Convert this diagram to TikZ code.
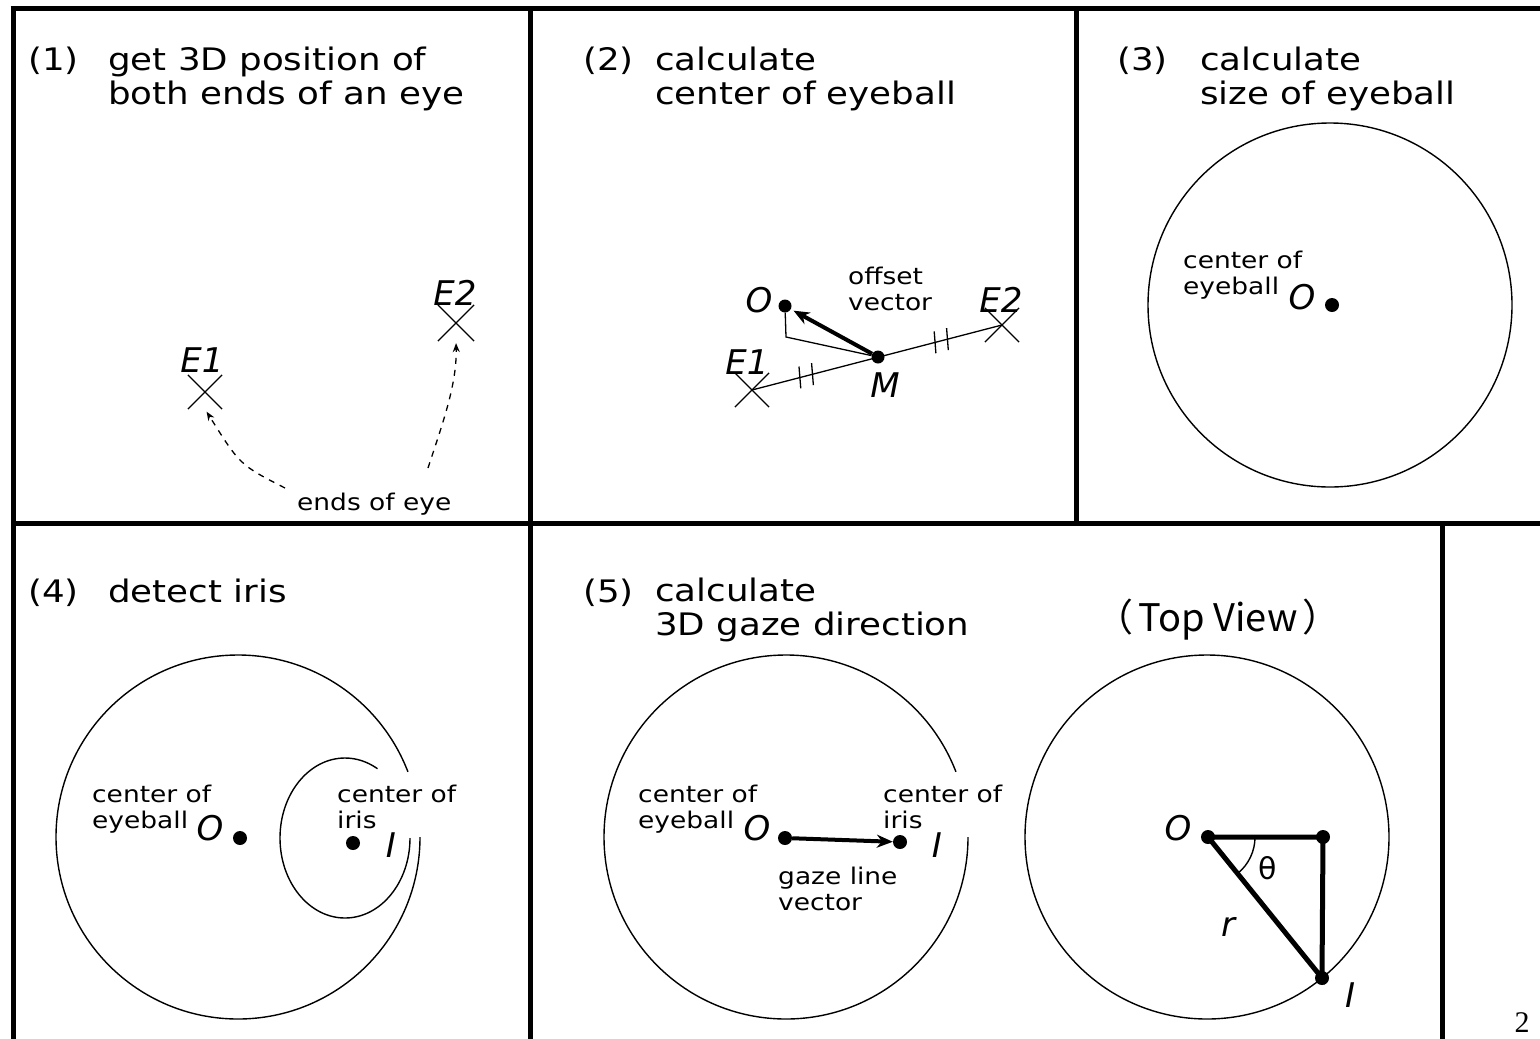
\documentclass[tikz,border=0pt]{standalone}
\usepackage{fontspec}
\usepackage{tikz}
\usetikzlibrary{arrows.meta,shapes.misc,calc,positioning}
\newfontfamily\bodyfont[FakeStretch=1.15]{DejaVu Sans}
\newfontfamily\lblfont{DejaVu Sans}
\newfontfamily\jpfont{Noto Sans CJK JP}
\newfontfamily\pagefont{Liberation Serif}

\begin{document}
\begin{tikzpicture}[
  x=1pt, y=-1pt,
  frame/.style={line width=5pt},
  eye/.style={line width=1.4pt},
  ball/.style={circle, draw, line width=1.4pt, minimum size=364pt, inner sep=0pt},
  dot/.style={circle, fill, inner sep=0pt, minimum size=14pt},
  cross/.style={cross out, draw, inner sep=0pt, minimum size=33pt, line width=1.2pt},
  ttl/.style={font=\bodyfont\fontsize{31}{34}\selectfont, inner sep=0pt, align=left},
  txt/.style={font=\bodyfont\fontsize{23}{26}\selectfont, inner sep=0pt, align=left, anchor=north west},
  lbl/.style={font=\lblfont\itshape\fontsize{34}{34}\selectfont, inner sep=0pt},
  vec/.style={-{Stealth[length=16pt,width=13pt]}, line width=4pt},
  dasharrow/.style={-{Stealth[length=9pt,width=7pt]}, dash pattern=on 6pt off 6pt, line width=1.3pt},
  leg/.style={line width=1.3pt}
]
\useasboundingbox (0,0) rectangle (1540,1039);

% panel frames
\draw[frame] (10.5,8) -- (1540,8);
\draw[frame] (13,8) -- (13,1039);
\draw[frame] (13,523) -- (1540,523);
\draw[frame] (530,8) -- (530,1039);
\draw[frame] (1076,8) -- (1076,523);
\draw[frame] (1442,523) -- (1442,1039);

% (1) ends of the eye
\node[ttl, anchor=base west] (n1) at (28,70) {(1)};
\node[ttl, anchor=north west] (t1) at (108,47) {get 3D position of\\both ends of an eye};
\node[cross] (e1x) at (205,392) {};
\node[lbl] (e1) at (202,360) {E1};
\node[cross, minimum size=35pt] (e2x) at (456,323) {};
\node[lbl] (e2) at (455,293) {E2};
\node[txt] (ends) at (297,493) {ends of eye};
\coordinate (endsL) at (285,488);
\coordinate (endsR) at (428,468);
\draw[dasharrow, shorten >=3pt] (endsL) .. controls (240,465) .. (e1x.south);
\draw[dasharrow, shorten >=2pt] (endsR) .. controls (442,425) and (457,385) .. (e2x.south);

% (2) center of eyeball
\node[ttl, anchor=base west] (n2) at (583,70) {(2)};
\node[ttl, anchor=north west] (t2) at (655,47) {calculate\\center of eyeball};
\node[cross] (f1x) at (752,390) {};
\node[lbl] (f1) at (747,362) {E1};
\node[cross] (f2x) at (1002,325) {};
\node[lbl] (f2) at (1001,300) {E2};
\node[dot, minimum size=13pt] (m) at (878,357) {};
\node[lbl] (ml) at (885,385) {M};
\node[dot, minimum size=13pt] (o2) at (785,306) {};
\node[lbl] (o2l) at (759,300) {O};
\node[txt] (off) at (848,267) {offset\\vector};
\coordinate (foot) at (786,337);
\draw[leg] (f1x.center) -- (f2x.center);
\draw[leg] (o2) -- (foot) -- (m);
\draw[vec, shorten >=3pt] (m) -- (o2);
\foreach \t in {0.38,0.48}
  \draw[leg] ($(f1x.center)!\t!(m)!11pt!80:(m)$) -- ($(f1x.center)!\t!(m)!11pt!-100:(m)$);
\foreach \t in {0.46,0.56}
  \draw[leg] ($(m)!\t!(f2x.center)!11pt!80:(f2x.center)$) -- ($(m)!\t!(f2x.center)!11pt!-100:(f2x.center)$);

% (3) size of eyeball
\node[ttl, anchor=base west] (n3) at (1117,70) {(3)};
\node[ttl, anchor=north west] (t3) at (1200,47) {calculate\\size of eyeball};
\node[ball] (ball3) at (1330,305) {};
\node[dot] (o3) at (1332,305) {};
\node[lbl] (o3l) at (1302,297) {O};
\node[txt] (c3) at (1183,251) {center of\\eyeball};

% (4) iris
\node[ttl, anchor=base west] (n4) at (28,602) {(4)};
\node[ttl, anchor=base west] (t4) at (108,602) {detect iris};
\coordinate (c4) at (238,837);
\draw[eye] ($(c4)+(182,0)$) arc (0:339:182);
\coordinate (ir4) at (345,838);
\draw[eye] ($(ir4)+(65,0)$) arc[start angle=0, end angle=300, x radius=65, y radius=80];
\node[dot] (o4) at (240,838) {};
\node[lbl] (o4l) at (210,828) {O};
\node[dot] (i4) at (353,843) {};
\node[lbl] (i4l) at (391,845) {I};
\node[txt] (c4a) at (92,785) {center of\\eyeball};
\node[txt] (c4b) at (337,785) {center of\\iris};

% (5) gaze direction
\node[ttl, anchor=base west] (n5) at (583,602) {(5)};
\node[ttl, anchor=north west] (t5) at (655,578) {calculate\\3D gaze direction};
\node[font=\jpfont\fontsize{38}{38}\selectfont, inner sep=0pt] (top) at (1218,620) {（\hspace{5pt}Top View\hspace{5pt}）};
\coordinate (c5) at (786,837);
\draw[eye] ($(c5)+(182,0)$) arc (0:339:182);
\node[dot] (o5) at (785,838) {};
\node[lbl] (o5l) at (757,828) {O};
\node[dot] (i5) at (900,842) {};
\node[lbl] (i5l) at (937,845) {I};
\draw[vec] (o5) -- (i5);
\node[txt] (c5a) at (638,785) {center of\\eyeball};
\node[txt] (c5b) at (883,785) {center of\\iris};
\node[txt] (gz) at (778,867) {gaze line\\vector};

% top view
\node[ball] (ball6) at (1207,837) {};
\node[dot] (o6) at (1208,837) {};
\node[dot] (k6) at (1323,837) {};
\node[dot] (i6) at (1322,978) {};
\draw[line width=5pt] (o6.center) -- (k6.center) -- (i6.center) -- cycle;
\draw[eye] ($(o6.center)+(47,0)$) arc (0:50.6:47);
\node[font=\lblfont\fontsize{30}{30}\selectfont, inner sep=0pt] (th) at (1268,868) {θ};
\node[lbl] (o6l) at (1178,828) {O};
\node[lbl] (rl) at (1228,927) {r};
\node[lbl] (i6l) at (1350,995) {I};

\node[font=\pagefont\fontsize{30}{30}\selectfont, inner sep=0pt, anchor=north] (pg) at (1522,1012) {2};
\end{tikzpicture}
\end{document}
